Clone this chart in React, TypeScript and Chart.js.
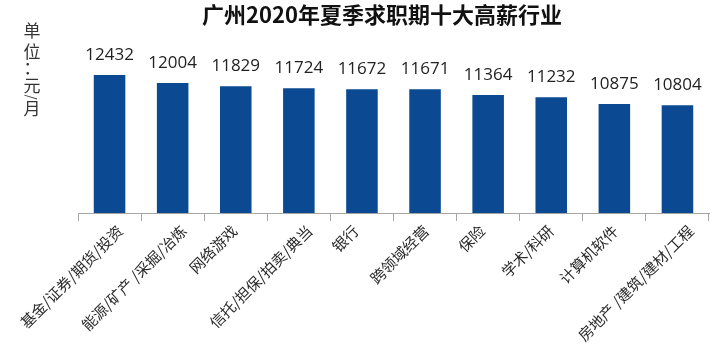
import React, { useEffect, useRef } from "react";
import { Chart, registerables } from "chart.js";

Chart.register(...registerables);

const title = "广州2020年夏季求职期十大高薪行业";
const unitChars = ["单", "位", "：", "元", "/", "月"];
const categories = [
  "基金/证券/期货/投资",
  "能源/矿产 /采掘/冶炼",
  "网络游戏",
  "信托/担保/拍卖/典当",
  "银行",
  "跨领域经营",
  "保险",
  "学术/科研",
  "计算机软件",
  "房地产 /建筑/建材/工程",
];
const salaries = [12432, 12004, 11829, 11724, 11672, 11671, 11364, 11232, 10875, 10804];
const yMin = 5000;
const yMax = 14000;

const CJK = '"Noto Sans CJK SC", "Noto Sans", sans-serif';

const overlay = {
  id: "overlay",
  afterDraw(chart: any) {
    const ctx = chart.ctx as CanvasRenderingContext2D;
    const area = chart.chartArea;
    ctx.save();
    // title
    ctx.fillStyle = "#111";
    ctx.font = `bold 22px ${CJK}`;
    ctx.textAlign = "center";
    ctx.textBaseline = "middle";
    ctx.fillText(title, 382, 15);

    // vertical unit label
    ctx.font = `17px ${CJK}`;
    ctx.fillStyle = "#333";
    const ys = [31, 52, 68, 86, 97, 109];
    unitChars.forEach((c, i) => {
      if (c === "/") {
        ctx.save();
        ctx.translate(32, ys[i]);
        ctx.rotate(Math.PI / 2);
        ctx.font = `13px ${CJK}`;
        ctx.fillText(c, 0, 0);
        ctx.restore();
      } else {
        ctx.fillText(c, 32, ys[i]);
      }
    });

    // values above bars
    const meta = chart.getDatasetMeta(0);
    ctx.font = `17px "Open Sans", sans-serif`;
    ctx.fillStyle = "#222";
    ctx.textAlign = "center";
    ctx.textBaseline = "alphabetic";
    meta.data.forEach((bar: any, i: number) => {
      ctx.fillText(String(salaries[i]), bar.x, bar.y - 15);
    });

    // rotated category labels
    ctx.font = `15px ${CJK}`;
    ctx.fillStyle = "#2a2a2a";
    ctx.textAlign = "right";
    ctx.textBaseline = "middle";
    const xScale = chart.scales.x;
    categories.forEach((c, i) => {
      const cx = xScale.getPixelForValue(i);
      const w = ctx.measureText(c).width;
      const ax = cx - 10.7 + 0.155 * w;
      ctx.save();
      ctx.translate(ax, area.bottom + 15);
      ctx.rotate(-Math.PI / 4);
      ctx.fillText(c, 0, 0);
      ctx.restore();
    });
    ctx.restore();
  },
};

export default function App() {
  const ref = useRef<HTMLCanvasElement | null>(null);
  useEffect(() => {
    document.body.style.margin = "0";
    const canvas = ref.current!;
    const chart = new Chart(canvas, {
      type: "bar",
      data: {
        labels: categories,
        datasets: [
          {
            data: salaries,
            backgroundColor: "#0b4a93",
            borderWidth: 0,
            barPercentage: 0.5,
            categoryPercentage: 1,
          },
        ],
      },
      options: {
        responsive: false,
        animation: false,
        layout: { padding: { left: 78, right: 7, top: 46, bottom: 132 } },
        plugins: { legend: { display: false }, tooltip: { enabled: false }, title: { display: false } },
        scales: {
          x: {
            offset: true,
            grid: {
              display: true,
              drawOnChartArea: false,
              drawTicks: true,
              tickLength: 8,
              color: "#a6a6a6",
              offset: true,
            },
            border: { display: true, color: "#a6a6a6", width: 1 },
            ticks: { display: false },
          },
          y: {
            display: false,
            min: yMin,
            max: yMax,
          },
        },
      },
      plugins: [overlay],
    });
    return () => chart.destroy();
  }, []);
  return (
    <div style={{ width: 716, height: 353, background: "#fff" }}>
      <canvas ref={ref} width={716} height={353} style={{ display: "block" }} />
    </div>
  );
}
